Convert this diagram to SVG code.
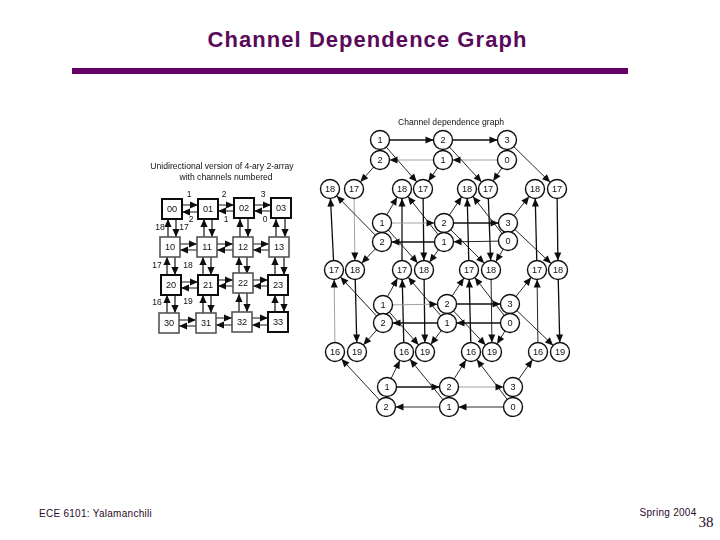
<svg xmlns="http://www.w3.org/2000/svg" width="720" height="540" viewBox="0 0 720 540">
<style>
text{font-family:"Liberation Sans",Arial,sans-serif;fill:#111;text-anchor:middle}
.n circle{fill:#fff;stroke:#111;stroke-width:1.4}
.n text{font-size:9.2px;dominant-baseline:central}
.b rect{fill:#fff;stroke:#111;stroke-width:2}
.b.t rect{stroke:#555;stroke-width:1.6}
.b text{font-size:9.2px;dominant-baseline:central}
.l{font-size:8.5px}
.cap{font-size:8.6px}
.foot{font-size:10px;letter-spacing:.28px;fill:#2a0a2a}
.c line{stroke:#111;stroke-width:.9;marker-end:url(#a)}
.c line.h{stroke-width:1.3}
.c line.g{stroke:#999}
.m line{stroke:#111;stroke-width:1.2;marker-end:url(#b)}
</style>
<defs>
<filter id="soft" x="0" y="0" width="1" height="1"><feGaussianBlur stdDeviation="0.3"/></filter>
<marker id="a" markerUnits="userSpaceOnUse" markerWidth="22" markerHeight="10" viewBox="-11 -5 22 10" refX="9.5" refY="0" orient="auto"><path d="M-8,-3.5L0,0L-8,3.5z" fill="#111"/></marker>
<marker id="b" markerUnits="userSpaceOnUse" markerWidth="24" markerHeight="10" viewBox="-12 -5 24 10" refX="10" refY="0" orient="auto"><path d="M-8,-3.6L0,0L-8,3.6z" fill="#111"/></marker>
</defs>
<rect width="720" height="540" fill="#fff"/>
<text x="367.5" y="47" style="font-size:22px;font-weight:bold;letter-spacing:1.05px;fill:#5a0a5a">Channel Dependence Graph</text>
<rect x="72" y="68" width="556" height="6" fill="#660066"/>
<text class="foot" x="95.5" y="517">ECE 6101: Yalamanchili</text>
<text class="foot" x="668" y="516">Spring 2004</text>
<text x="706" y="527" style="font-size:15px;font-family:'Liberation Serif',serif;fill:#2a0a2a">38</text>
<g id="figure" filter="url(#soft)">
<text class="cap" x="222" y="169">Unidirectional version of 4-ary 2-array</text>
<text class="cap" x="226" y="180">with channels numbered</text>
<text class="cap" x="451" y="125">Channel dependence graph</text>
<g class="m" id="mesh-connectors">
<line x1="172" y1="205" x2="208" y2="205"/><line x1="208" y1="212" x2="172" y2="212"/>
<line x1="208" y1="205" x2="244" y2="205"/><line x1="244" y1="211" x2="208" y2="211"/>
<line x1="244" y1="205" x2="281" y2="205"/><line x1="281" y1="211" x2="244" y2="211"/>
<line x1="170" y1="244" x2="207" y2="244"/><line x1="207" y1="250" x2="170" y2="250"/>
<line x1="207" y1="244" x2="243" y2="244"/><line x1="243" y1="250" x2="207" y2="250"/>
<line x1="243" y1="244" x2="279" y2="244"/><line x1="279" y1="250" x2="243" y2="250"/>
<line x1="171" y1="282" x2="208" y2="282"/><line x1="208" y1="288" x2="171" y2="288"/>
<line x1="208" y1="280" x2="243" y2="280"/><line x1="243" y1="286" x2="208" y2="286"/>
<line x1="243" y1="280" x2="278" y2="280"/><line x1="278" y1="286" x2="243" y2="286"/>
<line x1="169" y1="320" x2="206" y2="320"/><line x1="206" y1="326" x2="169" y2="326"/>
<line x1="206" y1="318" x2="242" y2="318"/><line x1="242" y1="325" x2="206" y2="325"/>
<line x1="242" y1="318" x2="278" y2="318"/><line x1="278" y1="325" x2="242" y2="325"/>
<line x1="168" y1="247" x2="168" y2="209"/><line x1="176" y1="209" x2="176" y2="247"/>
<line x1="204" y1="247" x2="204" y2="209"/><line x1="212" y1="209" x2="212" y2="247"/>
<line x1="240" y1="247" x2="240" y2="209"/><line x1="248" y1="209" x2="248" y2="247"/>
<line x1="276" y1="247" x2="276" y2="209"/><line x1="285" y1="209" x2="285" y2="247"/>
<line x1="167" y1="285" x2="167" y2="247"/><line x1="175" y1="247" x2="175" y2="285"/>
<line x1="203" y1="285" x2="203" y2="247"/><line x1="211" y1="247" x2="211" y2="285"/>
<line x1="239" y1="284" x2="239" y2="247"/><line x1="247" y1="247" x2="247" y2="284"/>
<line x1="275" y1="285" x2="275" y2="247"/><line x1="284" y1="247" x2="284" y2="285"/>
<line x1="167" y1="323" x2="167" y2="285"/><line x1="175" y1="285" x2="175" y2="323"/>
<line x1="203" y1="323" x2="203" y2="285"/><line x1="211" y1="285" x2="211" y2="323"/>
<line x1="239" y1="322" x2="239" y2="284"/><line x1="247" y1="284" x2="247" y2="322"/>
<line x1="275" y1="322" x2="275" y2="285"/><line x1="284" y1="285" x2="284" y2="322"/>
</g>
<g id="mesh-labels" class="l">
<text x="189" y="197">1</text><text x="224" y="197">2</text><text x="263" y="197">3</text>
<text x="191" y="222">2</text><text x="226" y="222">1</text><text x="265" y="222">0</text>
<text x="160" y="230">18</text><text x="184" y="230">17</text>
<text x="157" y="268">17</text><text x="188" y="268">18</text>
<text x="157" y="305">16</text><text x="188" y="304">19</text>
</g>
<g class="b" id="b00"><rect x="162" y="199" width="20" height="20"/><text x="172" y="209">00</text></g>
<g class="b" id="b01"><rect x="198" y="199" width="20" height="20"/><text x="208" y="209">01</text></g>
<g class="b" id="b02"><rect x="234" y="198" width="20" height="20"/><text x="244" y="208">02</text></g>
<g class="b" id="b03"><rect x="271" y="198" width="20" height="20"/><text x="281" y="208">03</text></g>
<g class="b t" id="b10"><rect x="160" y="237" width="20" height="20"/><text x="170" y="247">10</text></g>
<g class="b t" id="b11"><rect x="197" y="237" width="20" height="20"/><text x="207" y="247">11</text></g>
<g class="b t" id="b12"><rect x="233" y="237" width="20" height="20"/><text x="243" y="247">12</text></g>
<g class="b t" id="b13"><rect x="269" y="237" width="20" height="20"/><text x="279" y="247">13</text></g>
<g class="b" id="b20"><rect x="161" y="275" width="20" height="20"/><text x="171" y="285">20</text></g>
<g class="b" id="b21"><rect x="198" y="275" width="20" height="20"/><text x="208" y="285">21</text></g>
<g class="b t" id="b22"><rect x="233" y="273" width="20" height="20"/><text x="243" y="283">22</text></g>
<g class="b" id="b23"><rect x="268" y="275" width="20" height="20"/><text x="278" y="285">23</text></g>
<g class="b t" id="b30"><rect x="159" y="313" width="20" height="20"/><text x="169" y="323">30</text></g>
<g class="b t" id="b31"><rect x="196" y="313" width="20" height="20"/><text x="206" y="323">31</text></g>
<g class="b t" id="b32"><rect x="232" y="312" width="20" height="20"/><text x="242" y="322">32</text></g>
<g class="b" id="b33"><rect x="268" y="312" width="20" height="20"/><text x="278" y="322">33</text></g>
<g class="c" id="connectors">
<line class="h" x1="380" y1="140" x2="443" y2="140"/><line class="h" x1="443" y1="140" x2="507" y2="140"/>
<line class="g" x1="507" y1="160" x2="443" y2="160"/><line class="g" x1="443" y1="160" x2="380" y2="160"/>
<line x1="380" y1="140" x2="423" y2="189"/><line x1="443" y1="140" x2="488" y2="189"/><line x1="507" y1="140" x2="557" y2="189"/>
<line x1="380" y1="160" x2="354" y2="189"/><line x1="443" y1="160" x2="423" y2="189"/><line x1="507" y1="160" x2="488" y2="189"/>
<line class="h" x1="334" y1="270" x2="330" y2="189"/><line class="g" x1="354" y1="189" x2="355" y2="270"/>
<line class="h" x1="402" y1="270" x2="402" y2="189"/><line class="h" x1="423" y1="189" x2="424" y2="270"/>
<line class="h" x1="469" y1="270" x2="467" y2="189"/><line class="h" x1="488" y1="189" x2="491" y2="270"/>
<line class="h" x1="537" y1="270" x2="535" y2="189"/><line class="h" x1="557" y1="189" x2="558" y2="270"/>
<line x1="382" y1="223" x2="402" y2="189"/><line x1="444" y1="223" x2="467" y2="189"/><line x1="508" y1="223" x2="535" y2="189"/>
<line x1="382" y1="242" x2="330" y2="189"/><line x1="444" y1="242" x2="402" y2="189"/><line x1="508" y1="241" x2="467" y2="189"/>
<line class="g" x1="382" y1="223" x2="444" y2="223"/><line class="h" x1="444" y1="223" x2="508" y2="223"/>
<line x1="508" y1="241" x2="444" y2="242"/><line class="h" x1="444" y1="242" x2="382" y2="242"/>
<line x1="382" y1="223" x2="424" y2="270"/><line x1="444" y1="223" x2="491" y2="270"/><line x1="508" y1="223" x2="558" y2="270"/>
<line x1="382" y1="242" x2="355" y2="270"/><line x1="444" y1="242" x2="424" y2="270"/><line x1="508" y1="241" x2="491" y2="270"/>
<line class="g" x1="335" y1="352" x2="334" y2="270"/><line class="h" x1="355" y1="270" x2="357" y2="352"/>
<line class="h" x1="404" y1="352" x2="402" y2="270"/><line class="h" x1="424" y1="270" x2="425" y2="352"/>
<line class="h" x1="471" y1="352" x2="469" y2="270"/><line x1="491" y1="270" x2="492" y2="352"/>
<line x1="538" y1="352" x2="537" y2="270"/><line class="h" x1="558" y1="270" x2="560" y2="352"/>
<line x1="383" y1="305" x2="402" y2="270"/><line x1="447" y1="304" x2="469" y2="270"/><line x1="510" y1="304" x2="537" y2="270"/>
<line x1="383" y1="323" x2="334" y2="270"/><line x1="447" y1="323" x2="402" y2="270"/><line x1="510" y1="323" x2="469" y2="270"/>
<line class="g" x1="383" y1="305" x2="447" y2="304"/><line class="h" x1="447" y1="304" x2="510" y2="304"/>
<line class="h" x1="510" y1="323" x2="447" y2="323"/><line class="h" x1="447" y1="323" x2="383" y2="323"/>
<line x1="383" y1="305" x2="425" y2="352"/><line x1="447" y1="304" x2="492" y2="352"/><line x1="510" y1="304" x2="560" y2="352"/>
<line x1="383" y1="323" x2="357" y2="352"/><line x1="447" y1="323" x2="425" y2="352"/><line x1="510" y1="323" x2="492" y2="352"/>
<line x1="387" y1="387" x2="404" y2="352"/><line x1="449" y1="387" x2="471" y2="352"/><line x1="513" y1="387" x2="538" y2="352"/>
<line x1="386" y1="407" x2="335" y2="352"/><line x1="449" y1="407" x2="404" y2="352"/><line x1="513" y1="407" x2="471" y2="352"/>
<line class="h" x1="387" y1="387" x2="449" y2="387"/><line class="g" x1="449" y1="387" x2="513" y2="387"/>
<line x1="513" y1="407" x2="449" y2="407"/><line x1="449" y1="407" x2="386" y2="407"/>
</g>
<g class="n" id="t1"><circle cx="380" cy="140" r="9.5"/><text x="380" y="140">1</text></g>
<g class="n" id="t2"><circle cx="443" cy="140" r="9.5"/><text x="443" y="140">2</text></g>
<g class="n" id="t3"><circle cx="507" cy="140" r="9.5"/><text x="507" y="140">3</text></g>
<g class="n" id="t4"><circle cx="380" cy="160" r="9.5"/><text x="380" y="160">2</text></g>
<g class="n" id="t5"><circle cx="443" cy="160" r="9.5"/><text x="443" y="160">1</text></g>
<g class="n" id="t6"><circle cx="507" cy="160" r="9.5"/><text x="507" y="160">0</text></g>
<g class="n" id="a1"><circle cx="330" cy="189" r="9.5"/><text x="330" y="189">18</text></g>
<g class="n" id="a2"><circle cx="354" cy="189" r="9.5"/><text x="354" y="189">17</text></g>
<g class="n" id="a3"><circle cx="402" cy="189" r="9.5"/><text x="402" y="189">18</text></g>
<g class="n" id="a4"><circle cx="423" cy="189" r="9.5"/><text x="423" y="189">17</text></g>
<g class="n" id="a5"><circle cx="467" cy="189" r="9.5"/><text x="467" y="189">18</text></g>
<g class="n" id="a6"><circle cx="488" cy="189" r="9.5"/><text x="488" y="189">17</text></g>
<g class="n" id="a7"><circle cx="535" cy="189" r="9.5"/><text x="535" y="189">18</text></g>
<g class="n" id="a8"><circle cx="557" cy="189" r="9.5"/><text x="557" y="189">17</text></g>
<g class="n" id="m1"><circle cx="382" cy="223" r="9.5"/><text x="382" y="223">1</text></g>
<g class="n" id="m2"><circle cx="444" cy="223" r="9.5"/><text x="444" y="223">2</text></g>
<g class="n" id="m3"><circle cx="508" cy="223" r="9.5"/><text x="508" y="223">3</text></g>
<g class="n" id="m4"><circle cx="382" cy="242" r="9.5"/><text x="382" y="242">2</text></g>
<g class="n" id="m5"><circle cx="444" cy="242" r="9.5"/><text x="444" y="242">1</text></g>
<g class="n" id="m6"><circle cx="508" cy="241" r="9.5"/><text x="508" y="241">0</text></g>
<g class="n" id="c1"><circle cx="334" cy="270" r="9.5"/><text x="334" y="270">17</text></g>
<g class="n" id="c2"><circle cx="355" cy="270" r="9.5"/><text x="355" y="270">18</text></g>
<g class="n" id="c3"><circle cx="402" cy="270" r="9.5"/><text x="402" y="270">17</text></g>
<g class="n" id="c4"><circle cx="424" cy="270" r="9.5"/><text x="424" y="270">18</text></g>
<g class="n" id="c5"><circle cx="469" cy="270" r="9.5"/><text x="469" y="270">17</text></g>
<g class="n" id="c6"><circle cx="491" cy="270" r="9.5"/><text x="491" y="270">18</text></g>
<g class="n" id="c7"><circle cx="537" cy="270" r="9.5"/><text x="537" y="270">17</text></g>
<g class="n" id="c8"><circle cx="558" cy="270" r="9.5"/><text x="558" y="270">18</text></g>
<g class="n" id="k1"><circle cx="383" cy="305" r="9.5"/><text x="383" y="305">1</text></g>
<g class="n" id="k2"><circle cx="447" cy="304" r="9.5"/><text x="447" y="304">2</text></g>
<g class="n" id="k3"><circle cx="510" cy="304" r="9.5"/><text x="510" y="304">3</text></g>
<g class="n" id="k4"><circle cx="383" cy="323" r="9.5"/><text x="383" y="323">2</text></g>
<g class="n" id="k5"><circle cx="447" cy="323" r="9.5"/><text x="447" y="323">1</text></g>
<g class="n" id="k6"><circle cx="510" cy="323" r="9.5"/><text x="510" y="323">0</text></g>
<g class="n" id="d1"><circle cx="335" cy="352" r="9.5"/><text x="335" y="352">16</text></g>
<g class="n" id="d2"><circle cx="357" cy="352" r="9.5"/><text x="357" y="352">19</text></g>
<g class="n" id="d3"><circle cx="404" cy="352" r="9.5"/><text x="404" y="352">16</text></g>
<g class="n" id="d4"><circle cx="425" cy="352" r="9.5"/><text x="425" y="352">19</text></g>
<g class="n" id="d5"><circle cx="471" cy="352" r="9.5"/><text x="471" y="352">16</text></g>
<g class="n" id="d6"><circle cx="492" cy="352" r="9.5"/><text x="492" y="352">19</text></g>
<g class="n" id="d7"><circle cx="538" cy="352" r="9.5"/><text x="538" y="352">16</text></g>
<g class="n" id="d8"><circle cx="560" cy="352" r="9.5"/><text x="560" y="352">19</text></g>
<g class="n" id="e1"><circle cx="387" cy="387" r="9.5"/><text x="387" y="387">1</text></g>
<g class="n" id="e2"><circle cx="449" cy="387" r="9.5"/><text x="449" y="387">2</text></g>
<g class="n" id="e3"><circle cx="513" cy="387" r="9.5"/><text x="513" y="387">3</text></g>
<g class="n" id="e4"><circle cx="386" cy="407" r="9.5"/><text x="386" y="407">2</text></g>
<g class="n" id="e5"><circle cx="449" cy="407" r="9.5"/><text x="449" y="407">1</text></g>
<g class="n" id="e6"><circle cx="513" cy="407" r="9.5"/><text x="513" y="407">0</text></g>
</g>
</svg>
